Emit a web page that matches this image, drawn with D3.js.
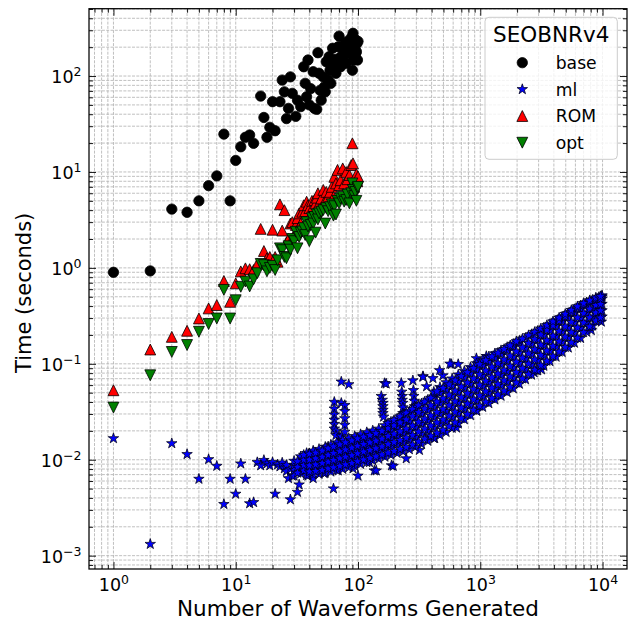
<!DOCTYPE html>
<html>
<head>
<meta charset="utf-8">
<script src="https://cdn.jsdelivr.net/npm/d3@7"></script>
<style>
  body { margin: 0; background: #fff; }
  svg { display: block; }
</style>
</head>
<body>
<svg id="chart" width="632" height="620"></svg>
<script>
// ---- timing data: number of waveforms generated vs wall time (s) ----

// SEOBNRv4 baseline
const baseN = [1, 2, 3, 4, 5, 6, 7, 8, 9, 10, 11, 12, 13, 14, 16, 17, 18, 19, 20, 21,
  23, 24, 25, 26, 27, 28, 29, 31, 32, 34, 36, 37, 38, 39, 40, 41, 43, 44, 46, 47,
  48, 49, 50, 52, 53, 54, 55, 57, 58, 59, 60, 62, 63, 64, 66, 67, 69, 70, 72, 73,
  75, 76, 78, 80, 81, 83, 85, 86, 88, 90, 91, 92, 94, 95, 96, 97, 98, 99, 100];
const baseT = [0.90, 0.93, 4.1, 3.8, 5.0, 7.2, 9.1, 24.8, 5.0, 13.2, 18.3, 23, 24.3, 19.9, 61.8, 37, 23, 29.2, 54, 26.9,
  54, 90.8, 68.5, 36, 46, 98, 66, 38, 56, 48, 125, 84, 60.8, 147, 50, 74, 111, 46, 45, 175,
  107, 71, 56, 98, 77, 68.5, 141, 91, 159, 115, 84, 195, 130, 147, 107, 150, 202, 261, 125, 160,
  159, 210, 180, 136, 228, 190, 173, 219, 250, 115, 279, 147, 200, 240, 173, 180, 219, 147, 230];

// reduced-order model and optimised model, evaluated at the same counts
const romN = [1, 2, 3, 4, 5, 6, 7, 8, 9, 10, 11, 12, 13, 14, 15, 16, 17, 18, 19, 20,
  21, 22, 23, 24, 25, 26, 27, 28, 29, 30, 31, 32, 33, 34, 35, 36, 37, 38, 39, 40,
  41, 42, 43, 44, 45, 46, 47, 48, 50, 52, 54, 55, 57, 59, 61, 63, 64, 66, 68, 70,
  72, 75, 77, 80, 82, 85, 88, 90, 91, 93, 95, 97, 99, 100];
const romT = [0.053, 0.141, 0.191, 0.221, 0.297, 0.378, 0.41, 0.73, 0.443, 0.69, 0.92, 0.99, 0.97, 0.95, 1.1, 2.55, 1.5, 1.26, 1.3, 2.5,
  1.3, 1.16, 4.6, 2.45, 4.0, 1.85, 2.0, 2.9, 3.0, 2.2, 2.8, 3.3, 3.7, 2.9, 3.85, 4.5, 3.9, 4.9, 4.5, 4.2,
  3.6, 5.0, 4.4, 5.1, 4.7, 5.4, 6.0, 4.7, 5.3, 6.5, 5.1, 6.2, 5.5, 6.2, 7.0, 5.5, 8.9, 7.6, 10.5, 7.3,
  8.2, 10.9, 7.6, 10.0, 8.4, 9.3, 11.8, 19.9, 12.3, 7.0, 8.6, 9.5, 8.0, 9.0];
const optN = romN.slice();
const optT = [0.035, 0.076, 0.133, 0.157, 0.216, 0.26, 0.297, 0.59, 0.297, 0.46, 0.635, 0.72, 0.64, 0.76, 0.88, 1.1, 1.07, 0.92, 1.0, 1.05,
  0.95, 1.2, 1.6, 1.53, 1.3, 1.26, 1.68, 1.55, 2.0, 1.9, 2.38, 1.6, 2.1, 2.33, 2.4, 2.6, 2.2, 3.0, 2.7, 1.9,
  2.8, 3.3, 2.9, 3.4, 2.33, 3.6, 3.2, 3.7, 3.85, 4.0, 2.9, 4.2, 3.9, 4.3, 4.6, 3.5, 4.4, 3.6, 5.0, 4.7,
  5.3, 5.5, 4.9, 5.1, 5.8, 4.7, 6.0, 7.6, 6.5, 5.6, 6.2, 5.0, 6.8, 7.0];

// ML surrogate: scattered runs (small counts, streaks, stragglers)
const mlN = [1, 2, 3, 4, 5, 6, 7, 8, 9, 10, 11, 12, 13, 14, 15, 16, 17, 18, 19, 20,
  21, 22, 23, 24, 25, 26, 26, 27, 28, 28, 29, 31, 32, 33, 35, 39, 40, 43, 46, 49,
  53, 57, 63, 69, 70, 80, 91, 100, 110, 117, 124, 136, 141, 188, 194, 248, 318, 385, 424, 640,
  930,
  64, 64, 64, 64, 64, 64, 66, 66, 73, 73, 73, 78, 78, 78, 78, 78, 84,
  155, 158, 160, 160, 160, 160, 162, 165, 170,
  226, 228, 230, 230, 232, 233, 233, 235, 226,
  281, 284, 286, 288, 290, 290,
  340, 364, 410, 495, 465, 581, 660, 340, 930, 1120, 565,
  2760, 2870, 3170, 8090, 9780];
const mlT = [0.0167, 0.00132, 0.0148, 0.0114, 0.0063, 0.0101, 0.0086, 0.00344, 0.0063, 0.0044, 0.0091, 0.0063, 0.0035, 0.0036, 0.0094, 0.0087, 0.0099, 0.0091, 0.0087, 0.0094,
  0.0044, 0.0089, 0.0085, 0.0093, 0.0081, 0.0076, 0.0088, 0.0064, 0.00385, 0.0080, 0.0068, 0.0087, 0.0046, 0.0055, 0.0087, 0.0068, 0.0116, 0.0064, 0.0094, 0.0113,
  0.0072, 0.0137, 0.0050, 0.0077, 0.0175, 0.0127, 0.0081, 0.0068, 0.0137, 0.0159, 0.0094, 0.0077, 0.0077, 0.0087, 0.0086, 0.0103, 0.0126, 0.0172, 0.0167, 0.0215,
  0.0329,
  0.040, 0.034, 0.0295, 0.026, 0.0235, 0.021, 0.020, 0.018, 0.065, 0.039, 0.0175, 0.037, 0.032, 0.027, 0.023, 0.0195, 0.061,
  0.046, 0.042, 0.039, 0.036, 0.033, 0.0305, 0.028, 0.0627, 0.062,
  0.063, 0.051, 0.046, 0.042, 0.039, 0.035, 0.0305, 0.027, 0.025,
  0.067, 0.053, 0.046, 0.041, 0.036, 0.033,
  0.074, 0.058, 0.0707, 0.0755, 0.0855, 0.099, 0.099, 0.073, 0.114, 0.12, 0.10,
  0.081, 0.086, 0.087, 0.224, 0.274];

// ML surrogate: the dense run band, grouped by count
const mlBandN = [30, 34, 38, 43, 48, 54, 60, 67, 75, 84, 94, 105, 118, 132, 148, 166, 186, 209, 234, 263,
  295, 331, 372, 417, 468, 525, 589, 661, 741, 832, 933, 1047, 1175, 1318, 1479, 1660, 1862, 2089, 2344, 2630,
  2951, 3311, 3715, 4169, 4677, 5248, 5888, 6607, 7413, 8318, 9333, 9900];
const mlBandT = [
  [0.0068, 0.0078, 0.0088, 0.0097],
  [0.0072, 0.0083, 0.0094, 0.0108],
  [0.0069, 0.0080, 0.0092, 0.0104, 0.0117],
  [0.0070, 0.0081, 0.0095, 0.0110, 0.0124],
  [0.0071, 0.0084, 0.0098, 0.0113, 0.0129],
  [0.0073, 0.0087, 0.0101, 0.0118, 0.0136],
  [0.0075, 0.0090, 0.0106, 0.0124, 0.0143],
  [0.0078, 0.0094, 0.0110, 0.0129, 0.0151],
  [0.0080, 0.0097, 0.0115, 0.0136, 0.0160],
  [0.0083, 0.0100, 0.0120, 0.0143, 0.0168],
  [0.0086, 0.0104, 0.0125, 0.0150, 0.0176],
  [0.0090, 0.0109, 0.0131, 0.0156, 0.0184],
  [0.0094, 0.0114, 0.0137, 0.0163, 0.0193],
  [0.0098, 0.0119, 0.0143, 0.0170, 0.0201],
  [0.0102, 0.0124, 0.0149, 0.0178, 0.0210],
  [0.0107, 0.0131, 0.0158, 0.0190, 0.0228],
  [0.0112, 0.0138, 0.0168, 0.0204, 0.0248],
  [0.0117, 0.0145, 0.0178, 0.0218, 0.0268],
  [0.0122, 0.0152, 0.0189, 0.0234, 0.0293],
  [0.0128, 0.0160, 0.0200, 0.0250, 0.0320],
  [0.0136, 0.0172, 0.0218, 0.0276, 0.0350],
  [0.0146, 0.0186, 0.0237, 0.0302, 0.0385],
  [0.0157, 0.0200, 0.0256, 0.0328, 0.0420],
  [0.0168, 0.0215, 0.0276, 0.0355, 0.0455, 0.051],
  [0.0181, 0.0233, 0.0300, 0.0386, 0.0495, 0.057],
  [0.0194, 0.0250, 0.0322, 0.0415, 0.0535, 0.064],
  [0.0214, 0.0276, 0.0356, 0.0460, 0.0590, 0.070],
  [0.0238, 0.0306, 0.0394, 0.0508, 0.0650, 0.077],
  [0.0263, 0.0338, 0.0435, 0.0560, 0.0720, 0.084],
  [0.0290, 0.0373, 0.0480, 0.0617, 0.0790, 0.092],
  [0.0322, 0.0413, 0.0530, 0.0680, 0.0870, 0.101],
  [0.0354, 0.0455, 0.0585, 0.0750, 0.0960, 0.110],
  [0.0387, 0.0497, 0.0638, 0.0820, 0.105, 0.119],
  [0.0423, 0.0543, 0.0697, 0.0895, 0.115, 0.128],
  [0.0462, 0.0593, 0.0762, 0.0980, 0.125, 0.138],
  [0.0505, 0.0648, 0.0830, 0.107, 0.137, 0.149],
  [0.0553, 0.0710, 0.0910, 0.117, 0.150, 0.161],
  [0.0617, 0.0792, 0.1015, 0.130, 0.167, 0.174],
  [0.0687, 0.0880, 0.113, 0.145, 0.186],
  [0.0766, 0.0980, 0.126, 0.161, 0.203],
  [0.0850, 0.109, 0.140, 0.179, 0.220],
  [0.0948, 0.1215, 0.156, 0.199, 0.238],
  [0.106, 0.136, 0.174, 0.222, 0.259],
  [0.118, 0.151, 0.193, 0.247, 0.283],
  [0.132, 0.169, 0.216, 0.276, 0.310],
  [0.147, 0.188, 0.240, 0.305, 0.338],
  [0.165, 0.210, 0.268, 0.340, 0.370],
  [0.185, 0.235, 0.298, 0.375, 0.405],
  [0.215, 0.270, 0.338, 0.410, 0.435],
  [0.249, 0.307, 0.375, 0.440, 0.465],
  [0.288, 0.345, 0.410, 0.470, 0.495],
  [0.310, 0.360, 0.420, 0.475, 0.500, 0.515]
];

// ML surrogate: further runs filling the band between the counts above
const mlFillN = [32, 36, 40, 45, 51, 57, 63, 71, 79, 89, 99, 111, 125, 140, 157, 176, 197, 221, 248, 279,
  313, 351, 394, 442, 497, 557, 624, 700, 785, 881, 988, 1109, 1245, 1396, 1567, 1758, 1972, 2213, 2483, 2786,
  3126, 3507, 3935, 4416, 4955, 5559, 6237, 6998, 7852, 8811, 9612];
const mlFillT = [
  [0.0073, 0.0084, 0.0096],
  [0.0077, 0.0088, 0.0100, 0.0112],
  [0.0075, 0.0087, 0.0100, 0.0115],
  [0.0076, 0.0089, 0.0103, 0.0118],
  [0.0078, 0.0092, 0.0107, 0.0124],
  [0.0081, 0.0095, 0.0112, 0.0131],
  [0.0083, 0.0099, 0.0117, 0.0137],
  [0.0086, 0.0103, 0.0122, 0.0144],
  [0.0089, 0.0107, 0.0127, 0.0151],
  [0.0092, 0.0111, 0.0133, 0.0158],
  [0.0096, 0.0116, 0.0139, 0.0166],
  [0.0100, 0.0121, 0.0145, 0.0173],
  [0.0104, 0.0126, 0.0151, 0.0180],
  [0.0108, 0.0131, 0.0157, 0.0188],
  [0.0113, 0.0137, 0.0165, 0.0199],
  [0.0118, 0.0145, 0.0176, 0.0213, 0.0240],
  [0.0123, 0.0152, 0.0186, 0.0228, 0.0258],
  [0.0129, 0.0160, 0.0197, 0.0244, 0.0282],
  [0.0135, 0.0169, 0.0210, 0.0262, 0.0308],
  [0.0143, 0.0180, 0.0226, 0.0285, 0.0336],
  [0.0154, 0.0195, 0.0247, 0.0312, 0.0368],
  [0.0165, 0.0210, 0.0267, 0.0340, 0.0402],
  [0.0177, 0.0226, 0.0288, 0.0368, 0.0440],
  [0.0190, 0.0244, 0.0313, 0.0402, 0.0515],
  [0.0204, 0.0262, 0.0337, 0.0434, 0.0558],
  [0.0222, 0.0286, 0.0368, 0.0474, 0.0608],
  [0.0244, 0.0314, 0.0404, 0.0522, 0.0670],
  [0.0270, 0.0347, 0.0447, 0.0577, 0.0742],
  [0.0298, 0.0383, 0.0493, 0.0635, 0.0815],
  [0.0330, 0.0424, 0.0545, 0.0701, 0.0900],
  [0.0364, 0.0468, 0.0602, 0.0774, 0.0990],
  [0.0400, 0.0514, 0.0660, 0.0848, 0.1085],
  [0.0437, 0.0562, 0.0721, 0.0927, 0.119],
  [0.0477, 0.0613, 0.0788, 0.1012, 0.130],
  [0.0522, 0.0670, 0.0860, 0.1105, 0.142],
  [0.0572, 0.0734, 0.0942, 0.121, 0.155],
  [0.0635, 0.0815, 0.1045, 0.134, 0.171],
  [0.0700, 0.0898, 0.1152, 0.148, 0.182],
  [0.0780, 0.1000, 0.128, 0.164, 0.198],
  [0.0862, 0.1105, 0.1415, 0.181, 0.214],
  [0.0960, 0.1230, 0.1575, 0.201, 0.232],
  [0.1070, 0.1370, 0.1755, 0.224, 0.252],
  [0.1195, 0.153, 0.1955, 0.250, 0.276],
  [0.1335, 0.171, 0.219, 0.280, 0.302],
  [0.149, 0.191, 0.244, 0.311, 0.330],
  [0.1665, 0.213, 0.272, 0.346, 0.362],
  [0.1865, 0.238, 0.303, 0.383, 0.396],
  [0.2125, 0.268, 0.336, 0.412, 0.428],
  [0.2445, 0.304, 0.374, 0.445, 0.458],
  [0.281, 0.341, 0.408, 0.472, 0.488],
  [0.302, 0.358, 0.418, 0.478, 0.505]
];

// axis decorations
const xTickExps = [0, 1, 2, 3, 4];
const yTickExps = [-3, -2, -1, 0, 1, 2];
const seriesNames = ["base", "ml", "ROM", "opt"];
const legendTitle = "SEOBNRv4";
const xLabel = "Number of Waveforms Generated";
const yLabel = "Time (seconds)";

// ---- layout ----
const FONT = "'DejaVu Sans', 'Liberation Sans', sans-serif";
const P = { left: 89, right: 627, top: 8.7, bottom: 569 };

const svg = d3.select("#chart");

const x = d3.scaleLog().domain([Math.pow(10, -0.2), Math.pow(10, 4.2)]).range([P.left, P.right]);
const y = d3.scaleLog().domain([Math.pow(10, -3.139), Math.pow(10, 2.702)]).range([P.bottom, P.top]);

function minorTicks(scale) {
  const [a, b] = scale.domain();
  const out = [];
  for (let e = Math.floor(Math.log10(a)); e <= Math.ceil(Math.log10(b)); e++) {
    for (let m = 2; m <= 9; m++) {
      const v = m * Math.pow(10, e);
      if (v >= a && v <= b) out.push(v);
    }
  }
  return out;
}
const xMajor = xTickExps.map(e => Math.pow(10, e));
const yMajor = yTickExps.map(e => Math.pow(10, e));
const xMinor = minorTicks(x);
const yMinor = minorTicks(y);

// ---- grid (major + minor, dashed) ----
const grid = svg.append("g").attr("stroke", "#b0b0b0").attr("stroke-width", 0.8)
  .attr("stroke-dasharray", "3,1.3").attr("fill", "none");
grid.selectAll("line.gx").data(xMajor.concat(xMinor)).join("line")
  .attr("x1", d => x(d)).attr("x2", d => x(d)).attr("y1", P.top).attr("y2", P.bottom);
grid.selectAll("line.gy").data(yMajor.concat(yMinor)).join("line")
  .attr("class", "gy")
  .attr("y1", d => y(d)).attr("y2", d => y(d)).attr("x1", P.left).attr("x2", P.right);

// ---- markers ----
const triUp = { draw(ctx, size) { const h = Math.sqrt(size) / 2; ctx.moveTo(0, -h); ctx.lineTo(h, h); ctx.lineTo(-h, h); ctx.closePath(); } };
const triDown = { draw(ctx, size) { const h = Math.sqrt(size) / 2; ctx.moveTo(0, h); ctx.lineTo(h, -h); ctx.lineTo(-h, -h); ctx.closePath(); } };

const styles = {
  base: { type: d3.symbolCircle, size: 84, fill: "#000000", stroke: "#000000", sw: 0.8 },
  ml:   { type: d3.symbolStar, size: 34, fill: "#0000ff", stroke: "#000014", sw: 0.75 },
  ROM:  { type: triUp, size: 118, fill: "#ff0000", stroke: "#000000", sw: 0.8 },
  opt:  { type: triDown, size: 118, fill: "#008000", stroke: "#000000", sw: 0.8 }
};

svg.append("clipPath").attr("id", "plotClip").append("rect")
  .attr("x", P.left).attr("y", P.top).attr("width", P.right - P.left).attr("height", P.bottom - P.top);
const plot = svg.append("g").attr("clip-path", "url(#plotClip)");

function drawSeries(name, ns, ts) {
  const st = styles[name];
  const pts = ns.map((n, i) => ({ n, t: ts[i] }));
  plot.append("g").selectAll("path").data(pts).join("path")
    .attr("transform", d => `translate(${x(d.n)},${y(d.t)})`)
    .attr("d", d3.symbol(st.type, st.size))
    .attr("fill", st.fill).attr("stroke", st.stroke).attr("stroke-width", st.sw);
}

// flatten the grouped band runs into (count, time) pairs
function flatten(ns, groups) {
  const outN = [], outT = [];
  ns.forEach((n, i) => groups[i].forEach(t => { outN.push(n); outT.push(t); }));
  return [outN, outT];
}
const [bandN, bandT] = flatten(mlBandN, mlBandT);
const [fillN, fillT] = flatten(mlFillN, mlFillT);

drawSeries("base", baseN, baseT);
drawSeries("ml", mlN.concat(bandN, fillN), mlT.concat(bandT, fillT));
drawSeries("ROM", romN, romT);
drawSeries("opt", optN, optT);

// ---- axes: inward ticks on all four sides ----
function styleAxis(g) {
  g.select(".domain").remove();
  g.selectAll(".tick line").attr("stroke", "#000").attr("stroke-width", 0.9);
  g.attr("font-family", FONT);
}
function majorLabel(sel, exps, opts) {
  sel.selectAll(".tick text").each(function (d, i) {
    const t = d3.select(this);
    t.text(null).attr("dy", null).attr("fill", "#000")
      .attr("font-size", 17.5)
      .attr("text-anchor", opts.anchor)
      .attr("x", opts.x).attr("y", opts.y);
    t.append("tspan").text("10");
    const e = exps[i];
    t.append("tspan").attr("dy", -7).attr("font-size", 12.5)
      .text(e < 0 ? "\u2212" + Math.abs(e) : String(e));
  });
}

const axB = svg.append("g").attr("transform", `translate(0,${P.bottom})`)
  .call(d3.axisBottom(x).tickValues(xMajor).tickSize(-7).tickFormat(() => ""));
styleAxis(axB);
majorLabel(axB, xTickExps, { anchor: "middle", x: 0, y: 21.5 });
svg.append("g").attr("transform", `translate(0,${P.bottom})`)
  .call(d3.axisBottom(x).tickValues(xMinor).tickSize(-4).tickFormat(() => "")).call(styleAxis);

svg.append("g").attr("transform", `translate(0,${P.top})`)
  .call(d3.axisTop(x).tickValues(xMajor).tickSize(-7).tickFormat(() => "")).call(styleAxis);
svg.append("g").attr("transform", `translate(0,${P.top})`)
  .call(d3.axisTop(x).tickValues(xMinor).tickSize(-4).tickFormat(() => "")).call(styleAxis);

const axL = svg.append("g").attr("transform", `translate(${P.left},0)`)
  .call(d3.axisLeft(y).tickValues(yMajor).tickSize(-7).tickFormat(() => ""));
styleAxis(axL);
majorLabel(axL, yTickExps, { anchor: "end", x: -7.5, y: 6.5 });
svg.append("g").attr("transform", `translate(${P.left},0)`)
  .call(d3.axisLeft(y).tickValues(yMinor).tickSize(-4).tickFormat(() => "")).call(styleAxis);

svg.append("g").attr("transform", `translate(${P.right},0)`)
  .call(d3.axisRight(y).tickValues(yMajor).tickSize(-7).tickFormat(() => "")).call(styleAxis);
svg.append("g").attr("transform", `translate(${P.right},0)`)
  .call(d3.axisRight(y).tickValues(yMinor).tickSize(-4).tickFormat(() => "")).call(styleAxis);

// frame
svg.append("rect").attr("x", P.left).attr("y", P.top)
  .attr("width", P.right - P.left).attr("height", P.bottom - P.top)
  .attr("fill", "none").attr("stroke", "#000").attr("stroke-width", 1.25);

// axis titles
svg.append("text").attr("x", (P.left + P.right) / 2).attr("y", 616)
  .attr("text-anchor", "middle").attr("font-family", FONT).attr("font-size", 21.5)
  .attr("fill", "#000").text(xLabel);
svg.append("text").attr("transform", `translate(31,${(P.top + P.bottom) / 2 + 4}) rotate(-90)`)
  .attr("text-anchor", "middle").attr("font-family", FONT).attr("font-size", 21)
  .attr("fill", "#000").text(yLabel);

// ---- legend ----
const lg = svg.append("g").attr("font-family", FONT);
lg.append("rect").attr("x", 485).attr("y", 17.3).attr("width", 132.3).attr("height", 142)
  .attr("rx", 4).attr("fill", "#fff").attr("fill-opacity", 0.8)
  .attr("stroke", "#cccccc").attr("stroke-width", 1);
lg.append("text").attr("x", 551.2).attr("y", 41.7).attr("text-anchor", "middle")
  .attr("font-size", 21.5).attr("fill", "#000").text(legendTitle);
const rowY = [62.7, 89.3, 116, 142.7];
seriesNames.forEach((name, i) => {
  const st = styles[name];
  lg.append("path").attr("transform", `translate(522.3,${rowY[i]})`)
    .attr("d", d3.symbol(st.type, st.size))
    .attr("fill", st.fill).attr("stroke", st.stroke).attr("stroke-width", st.sw);
  lg.append("text").attr("x", 555.7).attr("y", rowY[i] + 6.3)
    .attr("font-size", 17.2).attr("fill", "#000").text(name);
});
</script>
</body>
</html>
